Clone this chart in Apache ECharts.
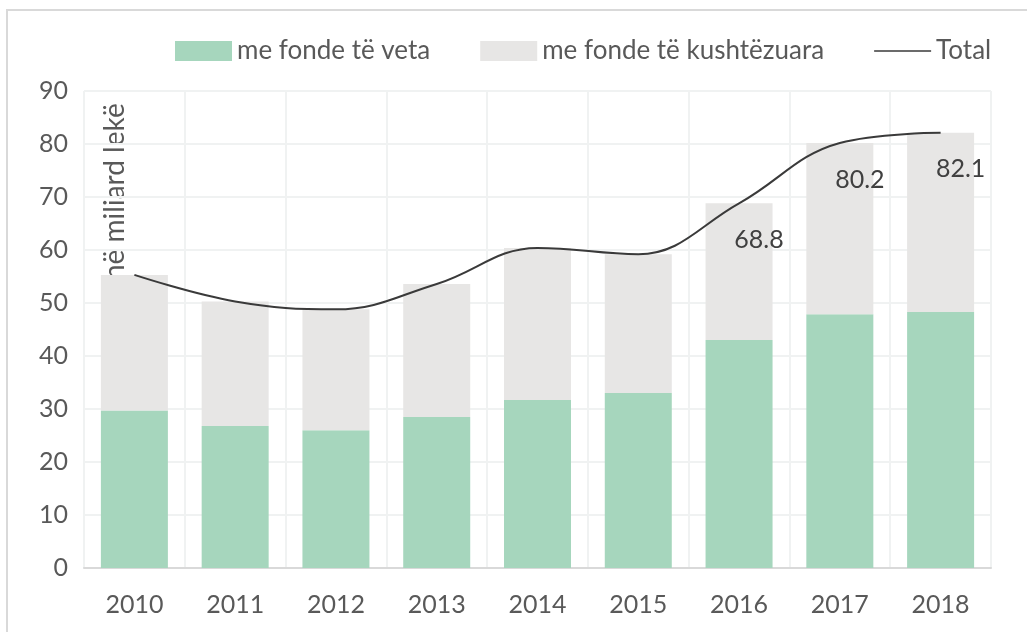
<!DOCTYPE html>
<html>
<head>
<meta charset="utf-8">
<script src="https://cdn.jsdelivr.net/npm/echarts@6/dist/echarts.min.js"></script>
<style>
  html, body { margin: 0; padding: 0; background: #fff; }
  #chart { width: 1027px; height: 632px; }
</style>
</head>
<body>
<div id="chart"></div>
<script>
// vite e të dhënave
var years = ['2010', '2011', '2012', '2013', '2014', '2015', '2016', '2017', '2018'];
// me fonde të veta
var ownFunds = [29.7, 26.8, 26.0, 28.5, 31.7, 33.0, 43.0, 47.9, 48.3];
// totali
var totals = [55.3, 50.3, 48.8, 53.6, 60.4, 59.2, 68.8, 80.2, 82.1];
// me fonde të kushtëzuara = total - të veta
var condFunds = totals.map(function (t, i) { return +(t - ownFunds[i]).toFixed(1); });
// vetëm tre vitet e fundit kanë etiketë
var labelShown = [false, false, false, false, false, false, true, true, true];

var font = 'Lato';
var textColor = '#595959';

var chart = echarts.init(document.getElementById('chart'));
chart.setOption({
    animation: false,
    textStyle: { fontFamily: font },
    grid: { left: 84, right: 36, top: 91, bottom: 64 },
    legend: {
        top: 33,
        left: 170,
        itemWidth: 57,
        itemHeight: 20,
        itemGap: 50,
        textStyle: { fontSize: 26, color: textColor, fontFamily: font },
        data: [
            { name: 'me fonde të veta', icon: 'rect' },
            { name: 'me fonde të kushtëzuara', icon: 'rect' },
            { name: 'Total', icon: 'path://M0,0 L10,0 L10,0.3 L0,0.3 Z' }
        ]
    },
    graphic: [{
        type: 'rect',
        shape: { x: 7, y: 10, width: 1040, height: 640 },
        style: { fill: 'none', stroke: '#d9d9d9', lineWidth: 2 },
        silent: true
    }, {
        type: 'text',
        x: 101,
        y: 280,
        rotation: Math.PI / 2,
        style: { text: 'në miliard lekë', fontSize: 28, fill: textColor, fontFamily: font }
    }],
    xAxis: {
        type: 'category',
        data: years,
        axisLine: { lineStyle: { color: '#d9d9d9', width: 2 } },
        axisTick: { show: false },
        axisLabel: { fontSize: 25, color: textColor, margin: 24 },
        splitLine: { show: true, lineStyle: { color: '#f0f2f2', width: 2 } }
    },
    yAxis: {
        type: 'value',
        min: 0,
        max: 90,
        interval: 10,
        axisLine: { show: false },
        axisTick: { show: false },
        axisLabel: { fontSize: 25, color: textColor, margin: 16 },
        splitLine: { lineStyle: { color: '#f0f2f2', width: 2 } }
    },
    series: [{
        name: 'me fonde të veta',
        type: 'bar',
        stack: 'fonde',
        barWidth: 67,
        itemStyle: { color: '#a6d6bd' },
        data: ownFunds
    }, {
        name: 'me fonde të kushtëzuara',
        type: 'bar',
        stack: 'fonde',
        barWidth: 67,
        itemStyle: { color: '#e7e6e5' },
        data: condFunds
    }, {
        name: 'Total',
        type: 'line',
        smooth: 0.4,
        symbol: 'circle',
        symbolSize: 0,
        lineStyle: { color: '#3a3a3a', width: 2 },
        itemStyle: { color: '#3a3a3a' },
        z: 5,
        data: totals.map(function (v, i) {
            return {
                value: v,
                label: {
                    show: labelShown[i],
                    position: 'bottom',
                    offset: [20, 19],
                    fontSize: 25,
                    color: '#404040',
                    formatter: function (p) { return p.value.toFixed(1); }
                }
            };
        })
    }]
});
</script>
</body>
</html>
